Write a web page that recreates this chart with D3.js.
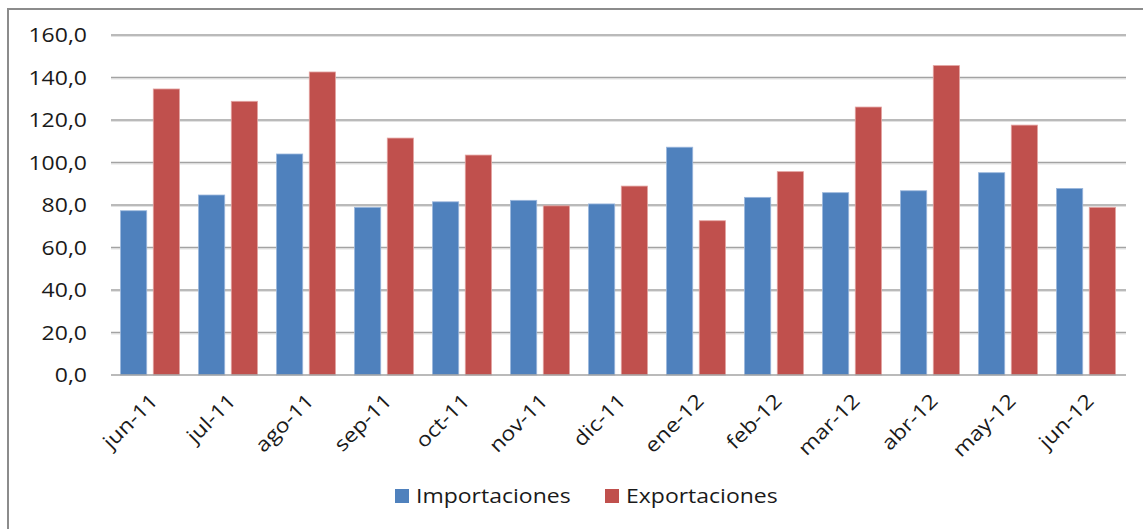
<!DOCTYPE html>
<meta charset='utf-8'>
<style>
	body { margin: 0; background: #fff; }
	text { font-family: 'Open Sans', sans-serif; fill: #1a1a1a; }
</style>
<body>
	<div id='container'></div>
<script src='https://d3js.org/d3.v7.min.js'></script>
<script>
	const months = ['jun-11', 'jul-11', 'ago-11', 'sep-11', 'oct-11', 'nov-11', 'dic-11',
		'ene-12', 'feb-12', 'mar-12', 'abr-12', 'may-12', 'jun-12'];
	const importaciones = [77.3, 84.7, 104.0, 78.9, 81.5, 82.2, 80.5, 107.2, 83.6, 85.8, 86.7, 95.2, 87.8];
	const exportaciones = [134.6, 128.8, 142.6, 111.5, 103.5, 79.6, 88.9, 72.6, 95.7, 126.1, 145.6, 117.6, 78.9];
	const seriesNames = ['Importaciones', 'Exportaciones'];
	const yTicks = [0, 20, 40, 60, 80, 100, 120, 140, 160];

	const W = 1143, H = 529;
	const stretch = 1.15; // reference text is wide, stretch horizontally
	const colors = { Importaciones: '#4f81bd', Exportaciones: '#c0504d' },
		edges = { Importaciones: '#9bb7dc', Exportaciones: '#e3a3a1' };

	let svg = d3.select( '#container' )
		.append( 'svg' )
		.attr( 'width', W )
		.attr( 'height', H );

	// outer frame (only top and left edges are visible)
	svg.append( 'rect' )
		.attr( 'x', 8 ).attr( 'y', 9 )
		.attr( 'width', W + 20 ).attr( 'height', H + 20 )
		.attr( 'fill', 'none' )
		.attr( 'stroke', '#8c8c8c' )
		.attr( 'stroke-width', 2 );

	let xScale = d3.scaleBand()
		.domain( months )
		.range( [111, 1125] );
	let x1 = d3.scaleBand()
		.domain( seriesNames )
		.range( [0, xScale.bandwidth()] )
		.paddingInner( 0.2 )
		.paddingOuter( 0.29 );
	let yScale = d3.scaleLinear()
		.domain( [0, 160] )
		.range( [375, 35] );

	// gridlines
	let grid = svg.append( 'g' );
	grid.selectAll( 'line.shadow' )
		.data( yTicks.filter( d => d > 0 ) )
		.join( 'line' )
			.attr( 'class', 'shadow' )
			.attr( 'x1', 111 ).attr( 'x2', 1126 )
			.attr( 'y1', d => yScale( d ) + 1.5 ).attr( 'y2', d => yScale( d ) + 1.5 )
			.attr( 'stroke', '#e2e2e2' ).attr( 'stroke-width', 1 );
	grid.selectAll( 'line.main' )
		.data( yTicks.filter( d => d > 0 ) )
		.join( 'line' )
			.attr( 'class', 'main' )
			.attr( 'x1', 111 ).attr( 'x2', 1126 )
			.attr( 'y1', d => yScale( d ) ).attr( 'y2', d => yScale( d ) )
			.attr( 'stroke', '#a3a3a3' ).attr( 'stroke-width', 1.5 );

	// bars
	let rows = months.map( ( m, i ) => ( { month: m, values: [
		{ key: 'Importaciones', value: importaciones[i] },
		{ key: 'Exportaciones', value: exportaciones[i] },
	] } ) );

	svg.append( 'g' )
		.selectAll( 'g' )
		.data( rows )
		.join( 'g' )
			.attr( 'transform', d => `translate( ${xScale( d.month )}, 0 )` )
		.selectAll( 'rect' )
		.data( d => d.values )
		.join( 'rect' )
			.attr( 'x', d => x1( d.key ) )
			.attr( 'y', d => yScale( d.value ) )
			.attr( 'width', x1.bandwidth() )
			.attr( 'height', d => yScale( 0 ) - yScale( d.value ) )
			.attr( 'fill', d => colors[d.key] )
			.attr( 'stroke', d => edges[d.key] )
			.attr( 'stroke-width', 0.8 );

	// axis baseline
	svg.append( 'line' )
		.attr( 'x1', 111 ).attr( 'x2', 1126 )
		.attr( 'y1', yScale( 0 ) ).attr( 'y2', yScale( 0 ) )
		.attr( 'stroke', '#a3a3a3' ).attr( 'stroke-width', 1.5 );

	// y labels
	svg.append( 'g' )
		.selectAll( 'text' )
		.data( yTicks )
		.join( 'text' )
			.attr( 'transform', d => `translate( 87, ${yScale( d )} ) scale( ${stretch}, 1 )` )
			.attr( 'dy', '0.36em' )
			.attr( 'text-anchor', 'end' )
			.style( 'font-size', '20px' )
			.text( d => d.toFixed( 1 ).replace( '.', ',' ) );

	// x labels
	svg.append( 'g' )
		.selectAll( 'text' )
		.data( months )
		.join( 'text' )
			.attr( 'transform', d => `translate( ${xScale( d ) + xScale.bandwidth() / 2 + 4}, 397 ) rotate( -45 ) scale( ${stretch}, 1 )` )
			.attr( 'text-anchor', 'end' )
			.attr( 'dy', '0.36em' )
			.style( 'font-size', '20px' )
			.text( d => d );

	// legend
	const legendX = [395, 605];
	let legend = svg.append( 'g' )
		.selectAll( 'g' )
		.data( seriesNames )
		.join( 'g' )
			.attr( 'transform', ( d, i ) => `translate( ${legendX[i]}, 496 )` );
	legend.append( 'rect' )
		.attr( 'x', 0 ).attr( 'y', -7 )
		.attr( 'width', 14 ).attr( 'height', 14 )
		.attr( 'fill', d => colors[d] );
	legend.append( 'text' )
		.attr( 'transform', `translate( 21, 0 ) scale( ${stretch}, 1 )` )
		.attr( 'dy', '0.36em' )
		.style( 'font-size', '20px' )
		.text( d => d );
</script>
</body>
